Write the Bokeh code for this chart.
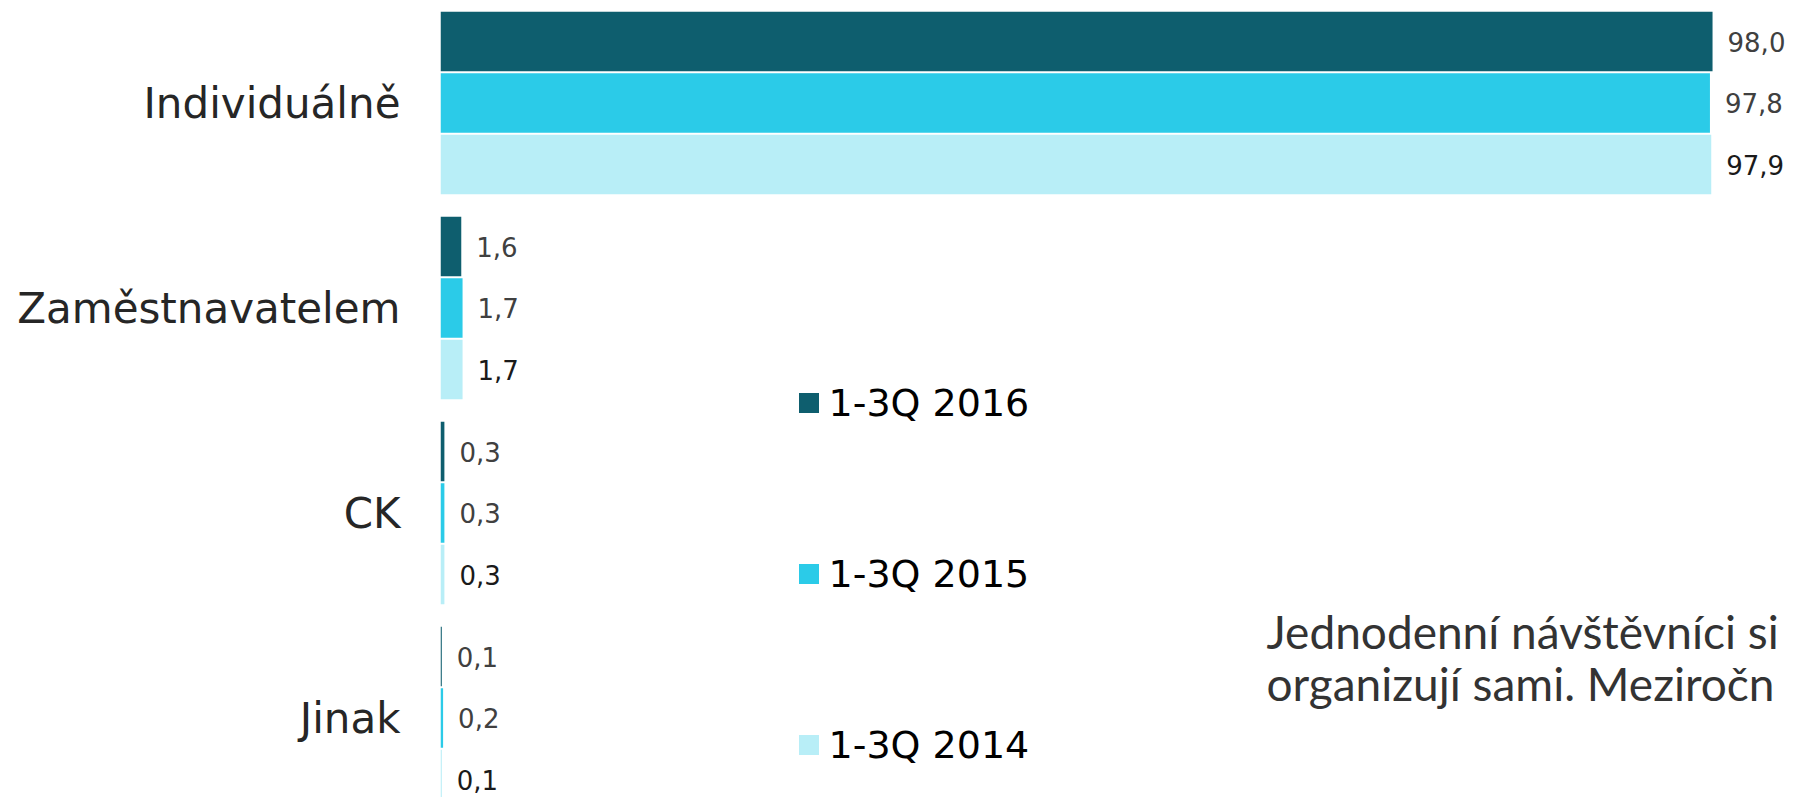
from bokeh.plotting import figure
from bokeh.models import ColumnDataSource, Range1d, Legend, LegendItem, FixedTicker
from bokeh.core.properties import value
from bokeh.embed import file_html
from bokeh.resources import INLINE

# ---- data ----
categories = ["Individuálně", "Zaměstnavatelem", "CK", "Jinak"]
series = ["1-3Q 2016", "1-3Q 2015", "1-3Q 2014"]
v2016 = [98.0, 1.6, 0.3, 0.1]
v2015 = [97.8, 1.7, 0.3, 0.2]
v2014 = [97.9, 1.7, 0.3, 0.1]
colors = ["#0E5E6E", "#2BCBE8", "#B8EEF7"]
# the note text as far as it is visible in the source picture
note_lines = ["Jednodenní návštěvníci si", "organizují sami. Meziročn"]

# ---- layout (pixels of the canvas) ----
W, H = 1785, 797
LEFT = 440            # frame left: value 0
PX_PER_UNIT = 12.98
Y0 = 102.5            # centre of first category (canvas px)
PX_PER_CAT = 205.0

x_end = (W - LEFT) / PX_PER_UNIT
y_top = -Y0 / PX_PER_CAT
y_bottom = (H - Y0) / PX_PER_CAT


def px_x(px):
    return (px - LEFT) / PX_PER_UNIT


def px_y(py):
    return (py - Y0) / PX_PER_CAT


p = figure(width=W, height=H, x_range=Range1d(0, x_end), y_range=Range1d(y_bottom, y_top),
           output_backend="svg", toolbar_location=None, x_axis_location=None,
           min_border=0, min_border_left=LEFT)
p.outline_line_color = None
p.grid.grid_line_color = None
p.background_fill_color = "white"
p.border_fill_color = "white"

# y axis with category names
p.yaxis.ticker = FixedTicker(ticks=list(range(len(categories))))
p.yaxis.major_label_overrides = {i: c for i, c in enumerate(categories)}
p.yaxis.axis_line_color = None
p.yaxis.major_tick_line_color = None
p.yaxis.minor_tick_line_color = None
p.yaxis.major_label_standoff = 34
p.yaxis.major_label_text_font = "DejaVu Sans"
p.yaxis.major_label_text_font_size = "42px"
p.yaxis.major_label_text_color = "#262626"

offsets = [-0.3, 0.0, 0.3]
values = [v2016, v2015, v2014]
label_colors = ["#404040", "#404040", "#1a1a1a"]
renderers = []
for k, (name, vals, col, off) in enumerate(zip(series, values, colors, offsets)):
    src = ColumnDataSource(dict(
        y=[i + off for i in range(len(categories))],
        v=vals,
        lab=[f"{v:.1f}".replace(".", ",") for v in vals],
    ))
    r = p.hbar(y="y", left=0, right="v", height=0.29, source=src,
               fill_color=col, line_color=None)
    renderers.append(r)
    p.text(x="v", y="y", text="lab", source=src, x_offset=15,
           text_align="left", text_baseline="middle",
           text_font=value("DejaVu Sans"), text_font_size="26px",
           text_color=label_colors[k])

legend = Legend(items=[LegendItem(label=s, renderers=[r]) for s, r in zip(series, renderers)],
                location=(355.5, 30.5), orientation="vertical",
                glyph_width=25, glyph_height=25, label_height=44,
                spacing=127, padding=0, margin=0, label_standoff=8,
                label_text_font="DejaVu Sans", label_text_font_size="38px",
                label_text_color="#000000",
                border_line_color=None, background_fill_alpha=0)
p.add_layout(legend)

note = ColumnDataSource(dict(
    x=[px_x(1266), px_x(1266)],
    y=[px_y(631), px_y(683)],
    t=note_lines,
))
p.text(x="x", y="y", text="t", source=note, text_align="left", text_baseline="alphabetic",
       text_font=value("Lato"), text_font_size="46px", text_color="#333333")

open("out.html", "w").write(file_html(p, INLINE))
